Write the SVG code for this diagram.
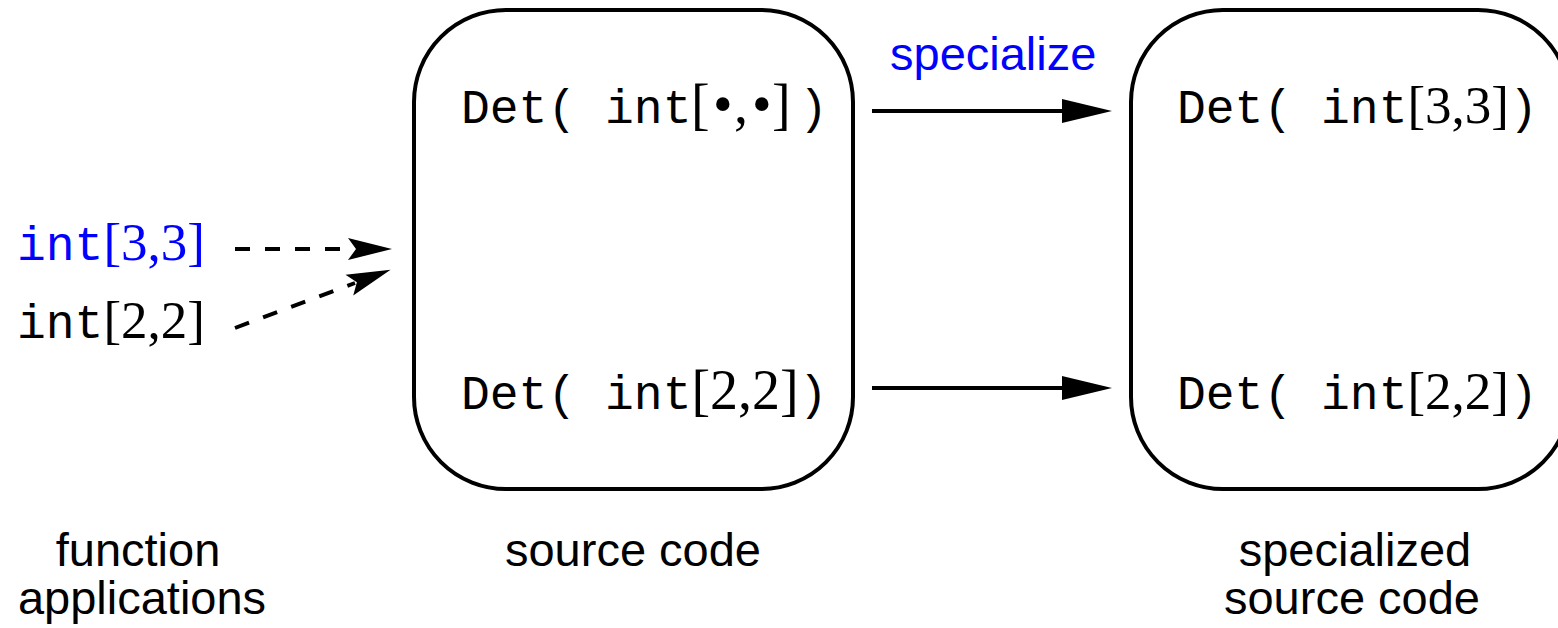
<svg xmlns="http://www.w3.org/2000/svg" width="1558" height="628" viewBox="0 0 1558 628">
<defs>
<style>
.box{fill:none;stroke:#000;stroke-width:4}
.code{font-family:"Liberation Mono","Courier New",monospace;font-size:48px}
.ser{font-family:"Liberation Serif","Times New Roman",serif;font-size:56px}
.ser2{font-family:"Liberation Serif","Times New Roman",serif;font-size:53px}
.sans{font-family:"Liberation Sans",Arial,sans-serif;font-size:47px}
.conn{fill:none;stroke:#000;stroke-width:4}
.dash{stroke-dasharray:15 15}
</style>
<marker id="tri" markerUnits="userSpaceOnUse" markerWidth="52" markerHeight="26" refX="0" refY="12" orient="auto" overflow="visible">
<path d="M0,0 L50,12 L0,24 Z" fill="#000"/>
</marker>
<marker id="barb" markerUnits="userSpaceOnUse" markerWidth="48" markerHeight="26" refX="6" refY="11" orient="auto" overflow="visible">
<path d="M0,0 L44,11 L0,22 L8,11 Z" fill="#000"/>
</marker>
</defs>
<rect width="1558" height="628" fill="#fff"/>

<g id="source">
<rect class="box" x="414" y="10" width="439" height="479" rx="92" ry="92"/>
<text class="code" x="461" y="123">Det( int<tspan class="ser" x="691">[</tspan><tspan class="ser" x="713">•</tspan><tspan class="ser" x="734">,</tspan><tspan class="ser" x="752">•</tspan><tspan class="ser" x="772">]</tspan><tspan x="799">)</tspan></text>
<text class="code" x="461" y="409">Det( int<tspan class="ser">[2,2]</tspan>)</text>
</g>

<g id="specialized">
<rect class="box" x="1131" y="10" width="439" height="479" rx="92" ry="92"/>
<text class="code" x="1177" y="123">Det( int<tspan class="ser2">[3,3]</tspan>)</text>
<text class="code" x="1177" y="409">Det( int<tspan class="ser2">[2,2]</tspan>)</text>
</g>

<g id="applications">
<text class="code" x="17" y="260" fill="#0000ff">int<tspan class="ser2">[3,3]</tspan></text>
<text class="code" x="17" y="338">int<tspan class="ser2">[2,2]</tspan></text>
</g>

<g id="labels">
<text class="sans" x="890" y="70" fill="#0000ff">specialize</text>
<text class="sans" x="138" y="566" text-anchor="middle">function</text>
<text class="sans" x="142" y="614" text-anchor="middle">applications</text>
<text class="sans" x="633" y="566" text-anchor="middle">source code</text>
<text class="sans" x="1355" y="566" text-anchor="middle">specialized</text>
<text class="sans" x="1352" y="614" text-anchor="middle">source code</text>
</g>

<g id="connectors">
<path class="conn" d="M872,111 L1062,111" marker-end="url(#tri)"/>
<path class="conn" d="M872,388 L1062,388" marker-end="url(#tri)"/>
<path class="conn dash" d="M235,249 L354,249" marker-end="url(#barb)"/>
<path class="conn dash" d="M235,328 L355,283" marker-end="url(#barb)"/>
</g>
</svg>
